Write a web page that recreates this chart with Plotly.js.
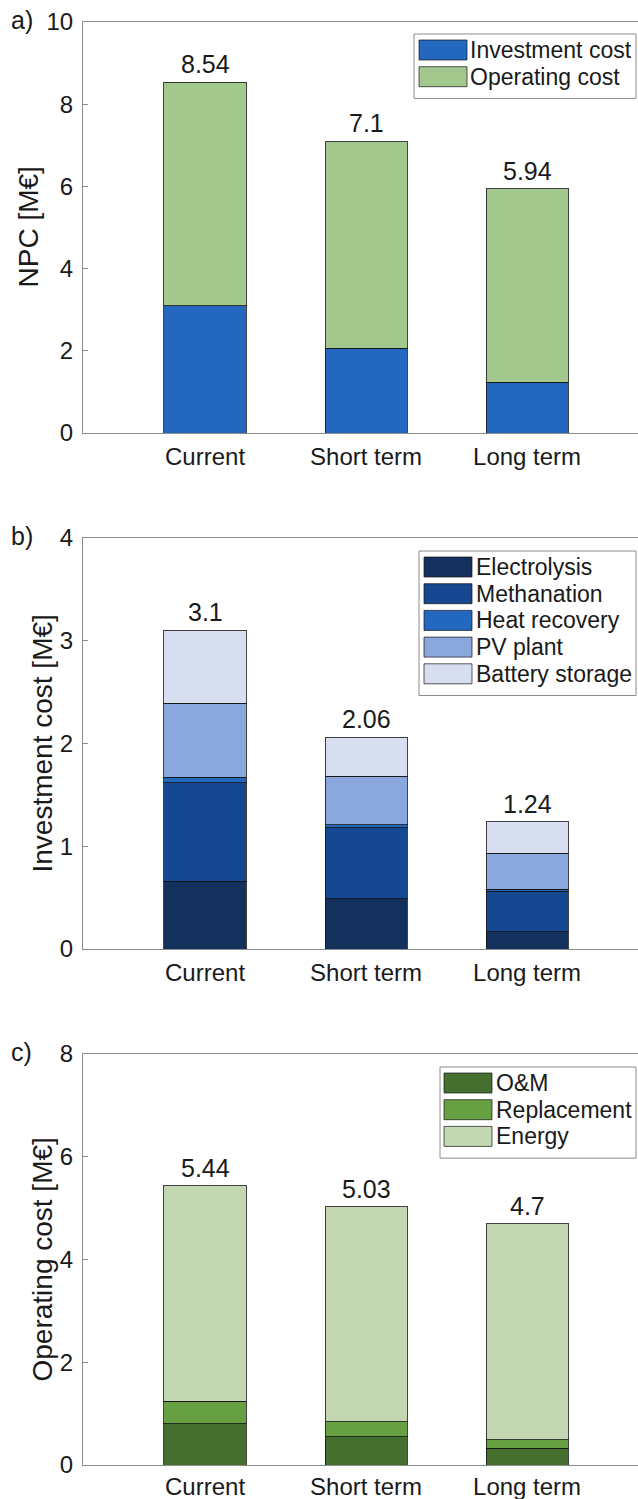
<!DOCTYPE html>
<html>
<head>
<meta charset="utf-8">
<script src="https://cdn.plot.ly/plotly-3.0.1.min.js"></script>
<style>
html,body{margin:0;padding:0;background:#fff;}
#chart{width:638px;height:1499px;}
</style>
</head>
<body>
<div id="chart"></div>
<script>
// ---------- data ----------
const categories = ['Current', 'Short term', 'Long term'];

// a) NPC
const npcNames = ['Investment cost', 'Operating cost'];
const npcInvestment = [3.10, 2.06, 1.24];
const npcOperating = [5.44, 5.03, 4.70];
const npcTotals = [8.54, 7.1, 5.94];

// b) Investment cost breakdown
const invNames = ['Electrolysis', 'Methanation', 'Heat recovery', 'PV plant', 'Battery storage'];
const invElectrolysis = [0.66, 0.49, 0.17];
const invMethanation = [0.96, 0.69, 0.39];
const invHeatRecovery = [0.05, 0.03, 0.02];
const invPV = [0.72, 0.47, 0.35];
const invBattery = [0.71, 0.38, 0.31];
const invTotals = [3.1, 2.06, 1.24];

// c) Operating cost breakdown
const opNames = ['O&M', 'Replacement', 'Energy'];
const opOM = [0.80, 0.55, 0.33];
const opReplacement = [0.44, 0.29, 0.16];
const opEnergy = [4.20, 4.19, 4.21];
const opTotals = [5.44, 5.03, 4.7];

// y-axis tick values
const npcTicks = [0, 2, 4, 6, 8, 10];
const invTicks = [0, 1, 2, 3, 4];
const opTicks = [0, 2, 4, 6, 8];

// ---------- styles ----------
const W = 638, H = 1499;
const fx = x => x / W;
const fy = y => 1 - y / H;
const FONT = 'Liberation Sans, Arial, Helvetica, sans-serif';
const AXIS_COL = '#8c8c8c';
const TXT = '#1a1a1a';
const npcColors = ['#2467be', '#a3c88e'];
const invColors = ['#14305d', '#154890', '#2467be', '#8aa8dc', '#d7def0'];
const opColors = ['#446f2f', '#66a043', '#c2d7b2'];
const EDGE = {color: 'rgba(20,20,20,0.8)', width: 1};
const BAR_W = 0.51;

const panels = [
  {xa: 'x', ya: 'y', top: 22, bottom: 433, range: [0, 10], ticks: npcTicks,
   names: npcNames, colors: npcColors, series: [npcInvestment, npcOperating], totals: npcTotals,
   label: 'a)', ytitle: 'NPC [M€]', ytitleX: 28, xStandoff: 2,
   legend: {left: 414, top: 34, width: 224, swX: 419, txtX: 470, row0: 40}},
  {xa: 'x2', ya: 'y2', top: 538, bottom: 949, range: [0, 4], ticks: invTicks,
   names: invNames, colors: invColors,
   series: [invElectrolysis, invMethanation, invHeatRecovery, invPV, invBattery], totals: invTotals,
   label: 'b)', ytitle: 'Investment cost [M€]', ytitleX: 42, xStandoff: 2,
   legend: {left: 419, top: 551, width: 219, swX: 424, txtX: 476, row0: 557}},
  {xa: 'x3', ya: 'y3', top: 1054, bottom: 1465, range: [0, 8], ticks: opTicks,
   names: opNames, colors: opColors,
   series: [opOM, opReplacement, opEnergy], totals: opTotals,
   label: 'c)', ytitle: 'Operating cost [M€]', ytitleX: 42, xStandoff: 0,
   legend: {left: 440, top: 1067, width: 198, swX: 444, txtX: 496, row0: 1073}}
];

const data = [];
const shapes = [];
const annotations = [];
const layout = {
  width: W, height: H,
  margin: {l: 0, r: 0, t: 0, b: 0},
  paper_bgcolor: '#ffffff', plot_bgcolor: '#ffffff',
  barmode: 'stack',
  showlegend: false,
  font: {family: FONT, color: TXT, size: 24},
  shapes: shapes, annotations: annotations
};

panels.forEach((p, pi) => {
  const sfx = pi === 0 ? '' : String(pi + 1);
  p.series.forEach((vals, si) => {
    data.push({
      type: 'bar', x: categories, y: vals, name: p.names[si],
      xaxis: p.xa, yaxis: p.ya, width: BAR_W,
      marker: {color: p.colors[si], line: EDGE},
      hoverinfo: 'name+y'
    });
  });
  layout['xaxis' + sfx] = {
    domain: [fx(83), 1], anchor: p.ya,
    type: 'category', range: [-0.758, 2.689],
    showline: true, linecolor: AXIS_COL, linewidth: 1, mirror: true,
    showgrid: false, zeroline: false, ticks: '',
    tickfont: {family: FONT, size: 24, color: TXT},
    ticklabelstandoff: p.xStandoff, fixedrange: true
  };
  layout['yaxis' + sfx] = {
    domain: [fy(p.bottom), fy(p.top)], anchor: p.xa,
    range: p.range, tickvals: p.ticks, ticktext: p.ticks.map(String),
    showline: true, linecolor: AXIS_COL, linewidth: 1,
    showgrid: false, zeroline: false,
    ticks: 'inside', ticklen: 5, tickcolor: AXIS_COL, tickwidth: 1,
    tickfont: {family: FONT, size: 24, color: TXT},
    ticklabelstandoff: 4, fixedrange: true
  };
  // total labels above the bars
  categories.forEach((c, ci) => {
    annotations.push({
      xref: p.xa, yref: p.ya, x: c, y: p.totals[ci],
      text: String(p.totals[ci]), showarrow: false,
      yanchor: 'bottom', yshift: 2,
      font: {family: FONT, size: 25, color: TXT}
    });
  });
  // panel label
  annotations.push({
    xref: 'paper', yref: 'paper', x: fx(9), y: fy(p.top - 2),
    xanchor: 'left', yanchor: 'middle', text: p.label, showarrow: false,
    font: {family: FONT, size: 25, color: TXT}
  });
  // y-axis title
  annotations.push({
    xref: 'paper', yref: 'paper', x: fx(p.ytitleX), y: fy((p.top + p.bottom) / 2),
    xanchor: 'center', yanchor: 'middle', textangle: -90,
    text: p.ytitle, showarrow: false,
    font: {family: FONT, size: 28, color: TXT}
  });
  // legend box
  const L = p.legend, pitch = 26.7, n = p.names.length;
  shapes.push({
    type: 'rect', xref: 'paper', yref: 'paper',
    x0: fx(L.left), x1: fx(Math.min(L.left + L.width, W - 2)),
    y0: fy(L.top + 6 + n * pitch + 5), y1: fy(L.top),
    line: {color: AXIS_COL, width: 1}, fillcolor: '#ffffff'
  });
  p.names.forEach((nm, si) => {
    const yt = L.row0 + si * pitch;
    shapes.push({
      type: 'rect', xref: 'paper', yref: 'paper',
      x0: fx(L.swX), x1: fx(L.swX + 48), y0: fy(yt + 20), y1: fy(yt),
      line: {color: 'rgba(20,20,20,0.7)', width: 1}, fillcolor: p.colors[si]
    });
    annotations.push({
      xref: 'paper', yref: 'paper', x: fx(L.txtX - 2), y: fy(yt + 10),
      xanchor: 'left', yanchor: 'middle', text: nm, showarrow: false,
      font: {family: FONT, size: 23, color: TXT}
    });
  });
});

Plotly.newPlot('chart', data, layout, {displayModeBar: false, staticPlot: true});
</script>
</body>
</html>
